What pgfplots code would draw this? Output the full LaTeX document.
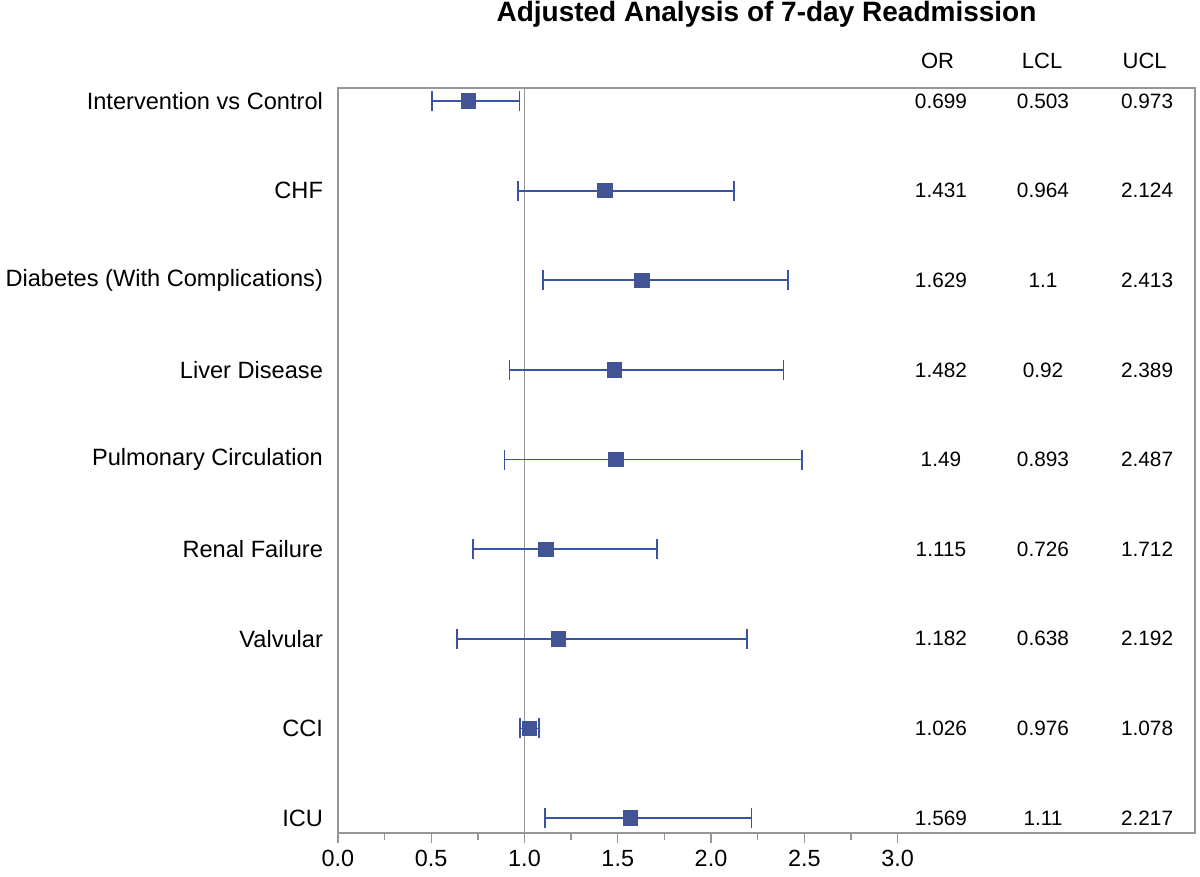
\documentclass[border=0pt]{standalone}
\usepackage{fontspec}
\setmainfont{Liberation Sans}
\usepackage{pgfplots}
\pgfplotsset{compat=1.18}
\usepackage{pgfplotstable}

\definecolor{framegray}{RGB}{150,150,150}
\definecolor{sasblue}{RGB}{58,84,164}
\definecolor{sasfill}{RGB}{66,84,150}

% odds ratios with 95% limits, one row per covariate
\pgfplotstableread[col sep=comma]{
row,or,lcl,ucl
1,0.699,0.503,0.973
2,1.431,0.964,2.124
3,1.629,1.1,2.413
4,1.482,0.92,2.389
5,1.49,0.893,2.487
6,1.115,0.726,1.712
7,1.182,0.638,2.192
8,1.026,0.976,1.078
9,1.569,1.11,2.217
}\oddsdata

\begin{document}
\begin{tikzpicture}
\begin{axis}[
  scale only axis,
  width=428.5pt, height=372.5pt,
  xmin=0, xmax=4.595,
  ymin=0.855, ymax=9.167,
  y dir=reverse,
  clip=false,
  axis line style={framegray, line width=0.75pt},
  xtick={0,0.5,...,3},
  minor xtick={0.25,0.75,...,2.75},
  xtick pos=left,
  tick align=outside,
  major tick length=5pt,
  minor tick length=3.5pt,
  tick style={framegray, line width=0.7pt},
  xticklabel style={
    font=\fontsize{11.7}{13}\selectfont,
    /pgf/number format/.cd, fixed, fixed zerofill, precision=1,
    assume math mode=true,
  },
  ytick={1,...,9},
  ytick style={draw=none},
  yticklabels={Intervention vs Control, CHF, Diabetes (With Complications),
    Liver Disease, Pulmonary Circulation, Renal Failure, Valvular, CCI, ICU},
  yticklabel style={font=\fontsize{11.8}{13}\selectfont, xshift=1pt},
]
\coordinate (ll) at (axis description cs:0,0);
\coordinate (ur) at (axis description cs:1,1);

% reference line at OR = 1
\addplot[framegray, line width=0.8pt] coordinates {(1,0.855) (1,9.167)};

% estimates and confidence limits
\addplot[
  only marks, sasblue,
  mark=square*, mark size=3.6pt,
  mark options={fill=sasfill, draw=sasfill},
  error bars/.cd,
    x dir=both, x explicit,
    error mark=|,
    error mark options={sasblue, mark size=5pt, line width=0.9pt},
    error bar style={sasblue, line width=0.9pt},
] table[x=or, y=row,
  x error plus expr=\thisrow{ucl}-\thisrow{or},
  x error minus expr=\thisrow{or}-\thisrow{lcl}] {\oddsdata};

% value columns
\pgfplotsset{every node near coord/.append style={anchor=center, black,
  font=\fontsize{10.4}{12}\selectfont}}
\addplot[draw=none, mark=none, nodes near coords, point meta=explicit symbolic]
  table[x expr=3.233, y=row, meta=or] {\oddsdata};
\addplot[draw=none, mark=none, nodes near coords, point meta=explicit symbolic]
  table[x expr=3.780, y=row, meta=lcl] {\oddsdata};
\addplot[draw=none, mark=none, nodes near coords, point meta=explicit symbolic]
  table[x expr=4.338, y=row, meta=ucl] {\oddsdata};

\node[font=\fontsize{11}{13}\selectfont] at (axis cs:3.215,0.554) {OR};
\node[font=\fontsize{11}{13}\selectfont] at (axis cs:3.775,0.554) {LCL};
\node[font=\fontsize{11}{13}\selectfont] at (axis cs:4.325,0.554) {UCL};
\node[font=\fontsize{14}{16}\selectfont\bfseries, anchor=center]
  at (axis description cs:0.5,1.0993) {Adjusted Analysis of 7-day Readmission};
\end{axis}
\pgfresetboundingbox
\path ([shift={(-169pt,-21.5pt)}]ll) rectangle ([shift={(2.5pt,44pt)}]ur);
\end{tikzpicture}
\end{document}
